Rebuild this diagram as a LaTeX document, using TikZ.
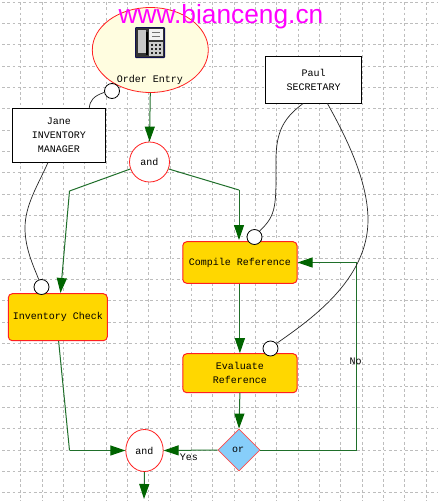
\documentclass[tikz,border=0pt]{standalone}
\usepackage{fontspec}
\setmainfont{Liberation Sans}
\setmonofont{Liberation Mono}
\usetikzlibrary{arrows.meta,shapes.geometric}
\definecolor{flowgreen}{HTML}{1F6F2A}
\definecolor{tipgreen}{HTML}{006400}
\definecolor{taskgold}{HTML}{FFD700}
\definecolor{gridgray}{HTML}{BDBDBD}
\definecolor{sky}{HTML}{87CEFA}
\definecolor{titlemag}{HTML}{FF00FF}
\definecolor{linered}{HTML}{FF2020}
\definecolor{paleyellow}{HTML}{FFFDE0}
\definecolor{navy}{HTML}{101050}
\tikzset{
  lbl/.style={font=\ttfamily\fontsize{10}{14}\selectfont,align=center,inner sep=0pt},
  person/.style={draw=black,fill=white,line width=1pt,lbl},
  task/.style={draw=linered,fill=taskgold,line width=1pt,rounded corners=4pt,lbl},
  gate/.style={draw=linered,fill=white,line width=.8pt,ellipse,lbl},
  port/.style={draw=black,fill=white,line width=.8pt,circle,minimum size=15pt,inner sep=0pt},
  flow/.style={draw=flowgreen,line width=1pt,-{Triangle[length=15pt,width=10pt,color=tipgreen]}},
  plainflow/.style={draw=flowgreen,line width=1pt},
  role/.style={draw=black!85,line width=.7pt},
}
\begin{document}
\begin{tikzpicture}[x=1pt,y=-1pt]
\useasboundingbox (0,0) rectangle (440,501);
\fill[white] (0,0) rectangle (440,501);
\foreach \k in {1,...,20} \draw[gridgray,line width=.8pt,dash pattern=on 2.7pt off 2.6pt] ({-0.6+21.33*\k},2) -- ({-0.6+21.33*\k},501);
\foreach \k in {0,...,23} \draw[gridgray,line width=.8pt,dash pattern=on 2.7pt off 2.6pt] (2,{2+21.33*\k}) -- (438,{2+21.33*\k});

\node[gate,fill=paleyellow,minimum width=116pt,minimum height=85pt] (order) at (150.3,50) {};
\node[lbl] (ordertxt) at (150,80) {Order Entry};
% fax icon
\fill[navy,rounded corners=1pt] (135,27) rectangle (165,58);
\fill[black!80] (136,28) rectangle (164,57);
\fill[black!22] (138,30) rectangle (146,53);
\fill[black] (146,32) rectangle (148,55);
\fill[black!5] (149,29) rectangle (163,40);
\draw[black!55,line width=1pt] (152,32) -- (160,32) (152,36) -- (160,36);
\fill[black!20] (149,42) rectangle (163,56);
\foreach \a in {150.5,154.5,158.5} \foreach \b in {43.5,47.5,51.5} \fill[black!85] (\a,\b) rectangle ++(2.6,2.6);

\node[person,minimum width=93pt,minimum height=53.5pt] (jane) at (59,135.25) {Jane\\INVENTORY\\MANAGER};
\node[person,minimum width=96pt,minimum height=46.5pt] (paul) at (313.7,79.75) {Paul\\SECRETARY};
\node[gate,circle,minimum size=40pt] (and1) at (149.5,162) {and};
\node[task,minimum width=114.3pt,minimum height=41.6pt] (compile) at (239.9,262.5) {Compile Reference};
\node[task,minimum width=99pt,minimum height=47pt] (inventory) at (57.8,317.2) {Inventory Check};
\node[task,minimum width=114.3pt,minimum height=39pt] (evaluate) at (239.9,373.2) {Evaluate\\Reference};
\node[diamond,draw=red!70!white,fill=sky,line width=.8pt,minimum width=42pt,minimum height=42pt,inner sep=0pt] (orgate) at (239,450) {};
\node[lbl] (ortxt) at (238,450) {or};
\node[gate,minimum width=37.4pt,minimum height=42pt] (and2) at (144.5,450.5) {and};

\node[port] (p1) at (112,91) {};
\node[port] (p2) at (254.5,237) {};
\node[port] (p3) at (41.5,287) {};
\node[port] (p4) at (270.5,348.5) {};

\coordinate (w1) at (69.5,191);
\coordinate (w2) at (239,190);
\coordinate (w3) at (69.5,450.5);
\coordinate (w4) at (356.5,450);
\coordinate (w5) at (356.5,262.5);
\coordinate (tipa) at (60.5,293);
\coordinate (tipb) at (239,240);
\coordinate (endd) at (144,499);

\draw[flow] (order.south) -- (and1.north);
\draw[plainflow] (and1.200) -- (w1);
\draw[flow] (w1) -- (tipa);
\draw[plainflow] (and1.-20) -- (w2);
\draw[flow] (w2) -- (tipb);
\draw[flow] (compile.south) -- (evaluate.north);
\draw[flow] (evaluate.south) -- (orgate.north);
\draw[flow] (orgate.west) -- (and2.east);
\draw[plainflow] (orgate.east) -- (w4) -- (w5);
\draw[flow] (w5) -- (compile.east);
\draw[plainflow] (inventory.-88) -- (w3);
\draw[flow] (w3) -- (and2.west);
\draw[flow] (and2.south) -- (endd);

\draw[role] (jane.42.7) .. controls (90,100) and (94,96) .. (p1.190);
\draw[role] (jane.-112.4) .. controls (38,185) and (25,205) .. (25,228) .. controls (25,248) and (33,265) .. (p3.110);
\draw[role] (paul.-114.7) .. controls (285,117) and (276,130) .. (276,160) .. controls (276,205) and (277,215) .. (p2.50);
\draw[role] (paul.-60.2) .. controls (345,135) and (368,180) .. (368,220) .. controls (368,280) and (310,320) .. (p4.40);

\node[lbl] (no) at (355.5,361) {No};
\node[lbl] (yes) at (189,457) {Yes};
\node[font=\fontsize{26.3}{30}\selectfont,text=titlemag,inner sep=0pt] (title) at (221,17) {www.bianceng.cn};
\end{tikzpicture}
\end{document}
